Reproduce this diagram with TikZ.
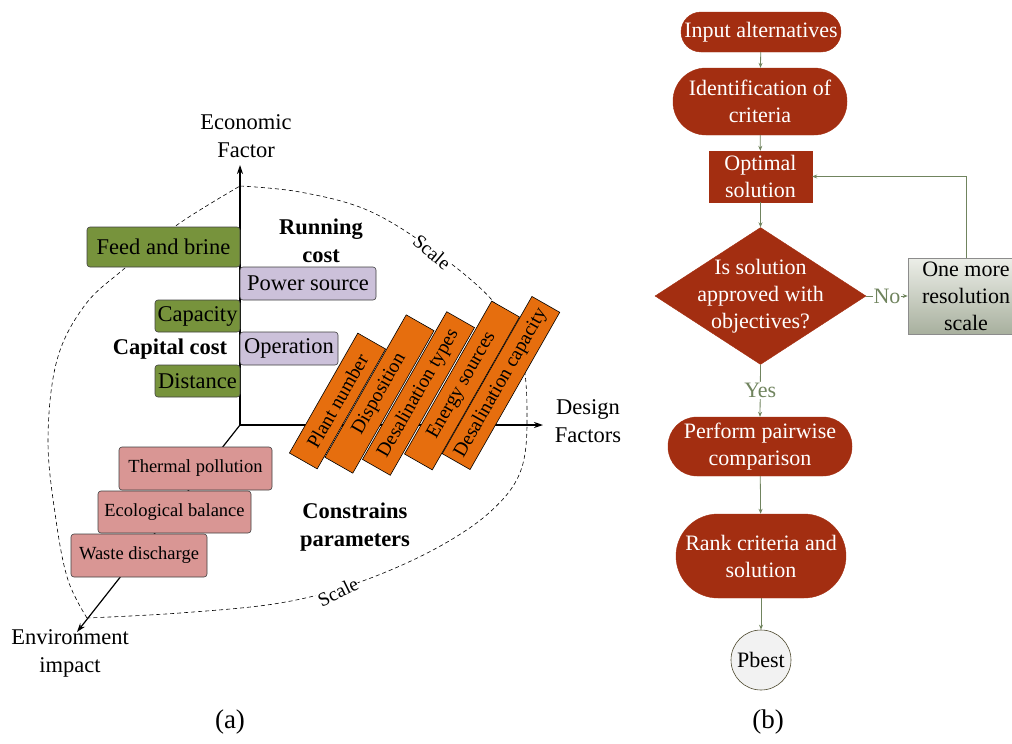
\documentclass[tikz,border=0pt]{standalone}
\usepackage{fontspec}
\setmainfont{Liberation Serif}
\usetikzlibrary{shapes.geometric,arrows.meta}

\definecolor{boxgreen}{RGB}{119,147,60}
\definecolor{boxlilac}{RGB}{204,193,218}
\definecolor{boxpink}{RGB}{217,150,148}
\definecolor{boxorange}{RGB}{230,110,14}
\definecolor{flowred}{RGB}{163,46,17}
\definecolor{flowline}{RGB}{112,132,94}
\definecolor{greytop}{RGB}{236,238,232}
\definecolor{greybot}{RGB}{168,176,158}

\tikzset{
  lab/.style={font=\fontsize{22.5}{28}\selectfont, align=center, inner sep=0pt},
  boldlab/.style={font=\fontsize{22.5}{28}\selectfont\bfseries, align=center, inner sep=0pt},
  axis/.style={line width=1.2pt, -{Stealth[length=9pt,width=6pt]}},
  scalecurve/.style={line width=0.6pt, dash pattern=on 4pt off 3pt},
  scalelab/.style={font=\fontsize{19.5}{21}\selectfont, fill=white, inner sep=0.5pt},
  cbox/.style={draw=black!75, line width=0.6pt, rounded corners=3pt, inner sep=0pt,
               font=\fontsize{22.5}{28}\selectfont},
  gbox/.style={cbox, fill=boxgreen},
  lbox/.style={cbox, fill=boxlilac},
  pbox/.style={cbox, fill=boxpink, font=\fontsize{18.5}{22}\selectfont},
  obox/.style={draw=black, line width=0.6pt, fill=boxorange, rotate=60.3,
               minimum height=32pt, inner sep=0pt, font=\fontsize{19.5}{22}\selectfont},
  flow/.style={draw=flowred, fill=flowred, text=white, align=center, inner sep=0pt,
               font=\fontsize{22}{27}\selectfont},
  fl/.style={draw=flowline, line width=0.8pt, -{Stealth[length=5pt,width=4pt]}},
  fltext/.style={text=flowline, fill=white, inner sep=1pt, font=\fontsize{22}{27}\selectfont},
}

\begin{document}
\begin{tikzpicture}[x=1pt,y=-1pt]
\useasboundingbox (0,0) rectangle (1012,744);
\begin{scope}
\clip (0,0) rectangle (1012,744);

% ---------------- (a) design space ----------------
% dashed "scale" envelope
\draw[scalecurve] plot[smooth, tension=0.6] coordinates {
  (240,186) (300,192) (367,210) (430,248) (492,300) (520,350) (527,410)
  (521,470) (490,512) (433,550) (357,583) (280,603) (180,613) (87,618)};
\draw[scalecurve] plot[smooth, tension=0.6] coordinates {
  (87,618) (68,580) (56,520) (48,440) (57,360) (85,305) (125,268) (177,225) (240,186)};
\node[scalelab, rotate=-40] (scaleA) at (432,252) {Scale};
\node[scalelab, rotate=26] (scaleB) at (338,592) {Scale};

% axes
\coordinate (O) at (240,425);
\coordinate (ytip) at (240,165);
\coordinate (xtip) at (543,425);
\coordinate (ztip) at (77,632);
\draw[axis] (O) -- (ytip);
\draw[axis] (O) -- (xtip);
\draw[axis] (O) -- (ztip);

\node[lab] (econ) at (246,136) {Economic\\Factor};
\node[lab] (design) at (588,421) {Design\\Factors};
\node[lab] (env) at (70,653) {Environment\\impact};

% economic factor items
\node[gbox, minimum width=153pt, minimum height=40pt] (feed) at (163.5,247) {Feed and brine};
\node[gbox, minimum width=85pt, minimum height=32pt] (capa) at (197.5,316) {Capacity};
\node[gbox, minimum width=85pt, minimum height=32pt] (dist) at (197.5,381) {Distance};
\node[lbox, minimum width=136pt, minimum height=33pt] (power) at (308,283.5) {Power source};
\node[lbox, minimum width=98pt, minimum height=33pt] (oper) at (289,348.5) {Operation};
\node[boldlab] (running) at (321,241) {Running\\cost};
\node[boldlab] (capital) at (170,349) {Capital cost};

% environmental items
\node[pbox, minimum width=153pt, minimum height=43pt] (therm) at (195.5,468.5) {Thermal pollution};
\node[pbox, minimum width=153pt, minimum height=42pt] (eco) at (174.5,512) {Ecological balance};
\node[pbox, minimum width=136pt, minimum height=43pt] (waste) at (139,555.5) {Waste discharge};
\node[boldlab] (constr) at (355,527.5) {Constrains\\parameters};

% design factor items
\node[obox, minimum width=138pt] (plant) at (337.5,401) {Plant number};
\node[obox, minimum width=164pt] (dispo) at (379.5,394) {Disposition};
\node[obox, minimum width=170pt] (dtype) at (418.5,393.5) {Desalination types};
\node[obox, minimum width=176pt] (energy) at (462,385.5) {Energy sources};
\node[obox, minimum width=181pt] (dcap) at (501,383) {Desalination capacity};

\node[font=\fontsize{27}{30}\selectfont] (capA) at (230,722) {(a)};

% ---------------- (b) flowchart ----------------
\node[flow, rounded corners=20pt, minimum width=160pt, minimum height=40pt] (input) at (761,32) {Input alternatives};
\node[flow, rounded corners=33pt, minimum width=174pt, minimum height=67pt] (ident) at (760,101.5) {Identification of\\criteria};
\node[flow, minimum width=103pt, minimum height=51pt] (opt) at (760.5,176.5) {Optimal\\solution};
\node[diamond, draw=flowred, fill=flowred, inner sep=0pt, minimum width=211pt, minimum height=137pt] (dec) at (760.5,296) {};
\node[flow, fill=none, draw=none] (dectext) at (dec.center) {Is solution\\approved with\\objectives?};
\node[draw=black!45, line width=0.6pt, top color=greytop, bottom color=greybot, align=center, inner sep=0pt,
      minimum width=116pt, minimum height=76pt, font=\fontsize{22}{27}\selectfont] (more) at (966,296) {One more\\resolution\\scale};
\node[flow, rounded corners=29pt, minimum width=184pt, minimum height=59pt] (pair) at (760,446.5) {Perform pairwise\\comparison};
\node[flow, rounded corners=42pt, minimum width=170pt, minimum height=84pt] (rank) at (761,556) {Rank criteria and\\solution};
\node[circle, draw=black!60!olive, line width=0.6pt, fill=black!5, minimum size=60pt, inner sep=0pt,
      font=\fontsize{22}{27}\selectfont] (pbest) at (761,660) {Pbest};

\draw[fl] (input) -- (ident);
\draw[fl] (ident) -- (opt);
\draw[fl] (opt) -- (dec);
\draw[fl] (dec.east) -- node[fltext] {No} (more.west);
\draw[fl] (more.north) |- (opt.east);
\draw[fl] (dec.south) -- node[fltext] {Yes} (pair.north);
\draw[fl] (pair) -- (rank);
\draw[fl] (rank) -- (pbest);

\node[font=\fontsize{27}{30}\selectfont] (capB) at (768,722) {(b)};
\end{scope}
\end{tikzpicture}
\end{document}
